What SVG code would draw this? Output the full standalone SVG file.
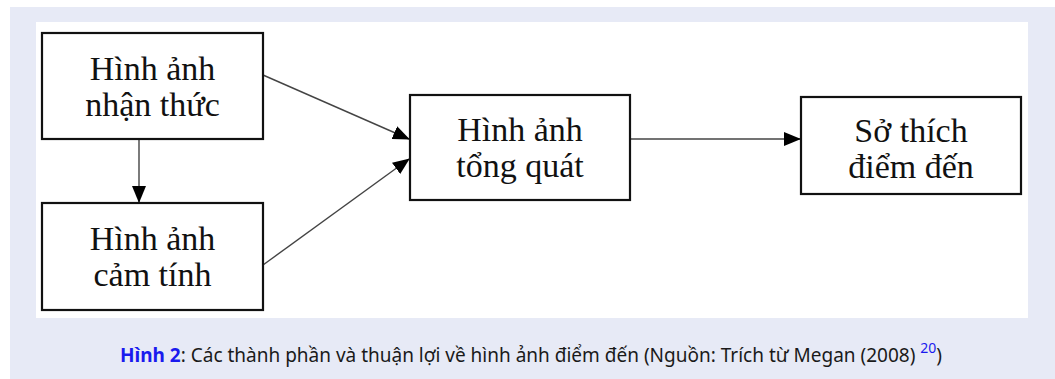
<svg xmlns="http://www.w3.org/2000/svg" width="1055" height="379" viewBox="0 0 1055 379">
<style>
.box{fill:#ffffff;stroke:#111111;stroke-width:2.2}
.lbl{font-family:"Liberation Serif","Times New Roman",serif;font-size:34px;fill:#111111;text-anchor:middle}
.con{stroke:#444444;stroke-width:1.4;fill:none}
.cap{font-family:"Noto Sans","Open Sans",sans-serif;font-size:19px;fill:#1a1a1a}
</style>
<defs>
<marker id="ah" markerWidth="17" markerHeight="14" refX="16" refY="7" orient="auto" markerUnits="userSpaceOnUse">
<path d="M0,0 L17,7 L0,14 Z" fill="#000000"/>
</marker>
</defs>
<rect x="10" y="7" width="1045" height="372" fill="#e7eaf6"/>
<rect x="36" y="22" width="992" height="296" fill="#ffffff"/>
<g id="connectors">
<line class="con" x1="263" y1="75" x2="409" y2="139" marker-end="url(#ah)"/>
<line class="con" x1="263" y1="265" x2="409" y2="159" marker-end="url(#ah)"/>
<line class="con" x1="139" y1="139" x2="139" y2="202" marker-end="url(#ah)"/>
<line class="con" x1="630" y1="139" x2="800" y2="139" marker-end="url(#ah)"/>
</g>
<g id="node-nhan-thuc">
<rect class="box" x="42" y="33" width="221" height="106"/>
<text class="lbl" x="152.5" y="80">Hình ảnh</text>
<text class="lbl" x="152.5" y="116">nhận thức</text>
</g>
<g id="node-cam-tinh">
<rect class="box" x="42" y="203" width="221" height="107"/>
<text class="lbl" x="152.5" y="250">Hình ảnh</text>
<text class="lbl" x="152.5" y="286">cảm tính</text>
</g>
<g id="node-tong-quat">
<rect class="box" x="410" y="95" width="220" height="105"/>
<text class="lbl" x="520" y="141">Hình ảnh</text>
<text class="lbl" x="520" y="177">tổng quát</text>
</g>
<g id="node-so-thich">
<rect class="box" x="801" y="97" width="220" height="97"/>
<text class="lbl" x="911" y="142">Sở thích</text>
<text class="lbl" x="911" y="178">điểm đến</text>
</g>
<text class="cap" x="531" y="362" text-anchor="middle"><tspan font-weight="bold" fill="#1a1aee">Hình 2</tspan>: Các thành phần và thuận lợi về hình ảnh điểm đến (Nguồn: Trích từ Megan (2008) <tspan fill="#1a1aee" font-size="14px" dy="-9">20</tspan><tspan dy="9">)</tspan></text>
</svg>
